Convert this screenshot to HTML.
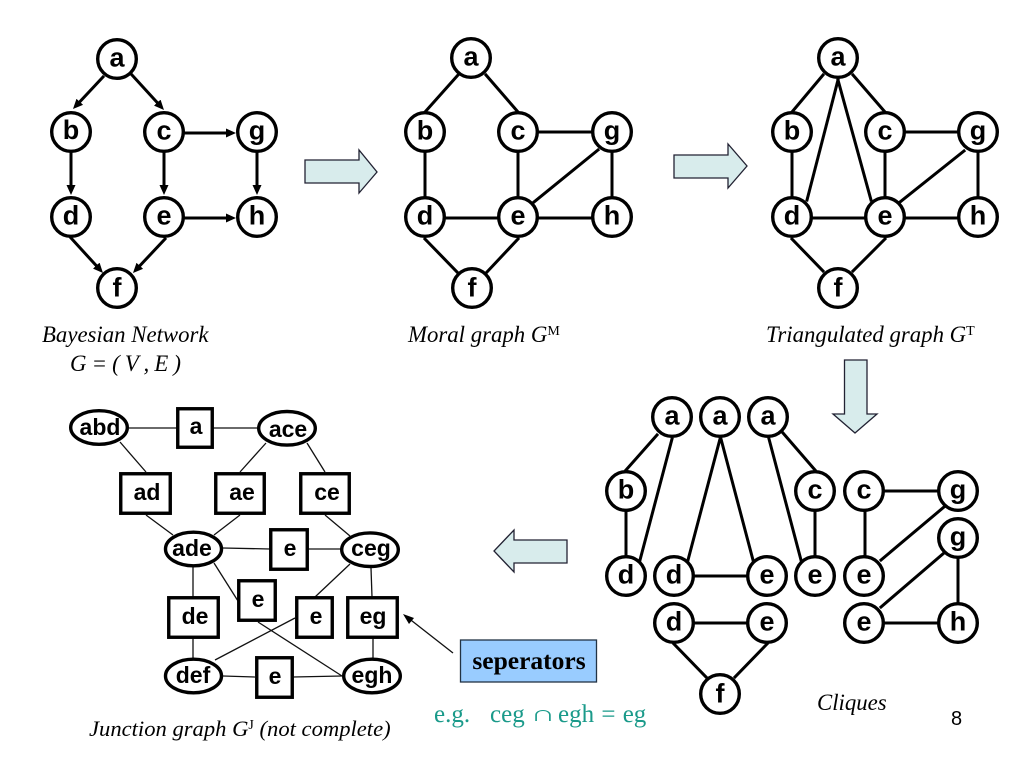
<!DOCTYPE html>
<html><head><meta charset="utf-8"><style>
html,body{margin:0;padding:0;background:#fff}
svg{display:block}
.n circle,.n ellipse,.n rect{fill:#fff;stroke:#000;stroke-width:3.4}
.n circle{r:19.300px}
.n text{font:bold 27px "Liberation Sans",sans-serif;text-anchor:middle;fill:#000}
.j text{font-size:23px}
.e line{stroke:#000;stroke-width:3;stroke-linecap:square}
.t line{stroke:#111;stroke-width:1.3}
.cap{font:italic 22.800px "Liberation Serif",serif;fill:#000}
.teal{font:25px "Liberation Serif",serif;fill:#1a9a8a}
.b{fill:#d8ecec;stroke:#223;stroke-width:1.3}
</style></head><body>
<svg width="1024" height="768" viewBox="0 0 1024 768" xmlns="http://www.w3.org/2000/svg">
<defs><marker id="ah" markerUnits="userSpaceOnUse" markerWidth="10" markerHeight="9" refX="5" refY="4.500" orient="auto"><path d="M0 0L10 4.500L0 9z" fill="#000"/></marker></defs>

<g class="e">
<line x1="103" y1="77" x2="76.400" y2="105.400" marker-end="url(#ah)"/><line x1="132" y1="75" x2="160.600" y2="106.300" marker-end="url(#ah)"/>
<line x1="71" y1="153" x2="71" y2="190" marker-end="url(#ah)"/><line x1="164" y1="153" x2="164" y2="190" marker-end="url(#ah)"/>
<line x1="257" y1="153" x2="257" y2="190" marker-end="url(#ah)"/><line x1="185" y1="133" x2="231" y2="133" marker-end="url(#ah)"/>
<line x1="185" y1="218" x2="231" y2="218" marker-end="url(#ah)"/><line x1="71" y1="238" x2="99.600" y2="269.300" marker-end="url(#ah)"/>
<line x1="165" y1="239" x2="136.400" y2="269.400" marker-end="url(#ah)"/>

<line x1="458" y1="75" x2="425" y2="112"/><line x1="486" y1="75" x2="518" y2="112"/><line x1="425" y1="153" x2="425" y2="196"/><line x1="518" y1="153" x2="518" y2="196"/><line x1="540" y1="132" x2="590" y2="132"/><line x1="612" y1="153" x2="612" y2="196"/><line x1="598" y1="150" x2="534" y2="202"/><line x1="446" y1="218" x2="497" y2="218"/><line x1="539" y1="218" x2="590" y2="218"/><line x1="425" y1="239" x2="458" y2="273"/><line x1="518" y1="239" x2="486" y2="273"/>

<line x1="823" y1="75" x2="792" y2="112"/><line x1="853" y1="75" x2="885" y2="112"/><line x1="838" y1="80" x2="807" y2="200"/><line x1="838" y1="80" x2="871" y2="200"/><line x1="792" y1="153" x2="792" y2="196"/><line x1="885" y1="153" x2="885" y2="196"/><line x1="907" y1="132" x2="957" y2="132"/><line x1="978" y1="153" x2="978" y2="196"/><line x1="964" y1="151" x2="900" y2="202"/><line x1="813" y1="218" x2="864" y2="218"/><line x1="906" y1="218" x2="957" y2="218"/><line x1="792" y1="239" x2="823" y2="271"/><line x1="885" y1="239" x2="853" y2="271"/>

<line x1="657" y1="435" x2="626" y2="470"/><line x1="672" y1="439" x2="640" y2="560"/><line x1="626" y1="512" x2="626" y2="556"/>
<line x1="720" y1="439" x2="688" y2="560"/><line x1="721" y1="439" x2="753" y2="560"/><line x1="695" y1="576" x2="747" y2="576"/>
<line x1="769" y1="439" x2="801" y2="560"/><line x1="783" y1="433" x2="815" y2="470"/><line x1="815" y1="512" x2="815" y2="556"/>
<line x1="886" y1="491" x2="937" y2="491"/><line x1="865" y1="512" x2="865" y2="556"/><line x1="944" y1="507" x2="881" y2="560"/>
<line x1="944" y1="553" x2="881" y2="607"/><line x1="958" y1="558" x2="958" y2="603"/><line x1="886" y1="623" x2="937" y2="623"/>
<line x1="695" y1="623" x2="747" y2="623"/><line x1="674" y1="644" x2="706" y2="677"/><line x1="767" y1="644" x2="735" y2="677"/>
</g>

<g class="n">
<circle cx="117" cy="59" r="19.300"/><text x="117" y="66.500">a</text>
<circle cx="71" cy="132" r="19.300"/><text x="71" y="139">b</text>
<circle cx="164" cy="132" r="19.300"/><text x="164" y="139.500">c</text>
<circle cx="257" cy="132" r="19.300"/><text x="257" y="139.500">g</text>
<circle cx="71" cy="217" r="19.300"/><text x="71" y="224.500">d</text>
<circle cx="164" cy="217" r="19.300"/><text x="164" y="224.500">e</text>
<circle cx="257" cy="217" r="19.300"/><text x="257" y="224.500">h</text>
<circle cx="117" cy="288" r="19.300"/><text x="117" y="296.500">f</text>

<circle cx="471" cy="58" r="19.300"/><text x="471" y="65.500">a</text>
<circle cx="425" cy="132" r="19.300"/><text x="425" y="139.500">b</text>
<circle cx="518" cy="132" r="19.300"/><text x="518" y="139.500">c</text>
<circle cx="612" cy="132" r="19.300"/><text x="612" y="139.500">g</text>
<circle cx="425" cy="217" r="19.300"/><text x="425" y="224.500">d</text>
<circle cx="518" cy="217" r="19.300"/><text x="518" y="224.500">e</text>
<circle cx="612" cy="217" r="19.300"/><text x="612" y="224.500">h</text>
<circle cx="472" cy="288" r="19.300"/><text x="472" y="296.500">f</text>

<circle cx="838" cy="58" r="19.300"/><text x="838" y="65.500">a</text>
<circle cx="792" cy="132" r="19.300"/><text x="792" y="139.500">b</text>
<circle cx="885" cy="132" r="19.300"/><text x="885" y="139.500">c</text>
<circle cx="978" cy="132" r="19.300"/><text x="978" y="139.500">g</text>
<circle cx="792" cy="217" r="19.300"/><text x="792" y="224.500">d</text>
<circle cx="885" cy="217" r="19.300"/><text x="885" y="224.500">e</text>
<circle cx="978" cy="217" r="19.300"/><text x="978" y="224.500">h</text>
<circle cx="838" cy="288" r="19.300"/><text x="838" y="296.500">f</text>

<circle cx="672" cy="417" r="19.300"/><text x="672" y="424.500">a</text>
<circle cx="720" cy="417" r="19.300"/><text x="720" y="424.500">a</text>
<circle cx="768" cy="417" r="19.300"/><text x="768" y="424.500">a</text>
<circle cx="626" cy="491" r="19.300"/><text x="626" y="498.500">b</text>
<circle cx="815" cy="491" r="19.300"/><text x="815" y="498.500">c</text>
<circle cx="864" cy="491" r="19.300"/><text x="864" y="498.500">c</text>
<circle cx="958" cy="491" r="19.300"/><text x="958" y="498.500">g</text>
<circle cx="958" cy="538" r="19.300"/><text x="958" y="545.500">g</text>
<circle cx="626" cy="576" r="19.300"/><text x="626" y="583.500">d</text>
<circle cx="674" cy="576" r="19.300"/><text x="674" y="583.500">d</text>
<circle cx="767" cy="576" r="19.300"/><text x="767" y="583.500">e</text>
<circle cx="815" cy="576" r="19.300"/><text x="815" y="583.500">e</text>
<circle cx="864" cy="576" r="19.300"/><text x="864" y="583.500">e</text>
<circle cx="864" cy="623" r="19.300"/><text x="864" y="630.500">e</text>
<circle cx="958" cy="623" r="19.300"/><text x="958" y="630.500">h</text>
<circle cx="674" cy="623" r="19.300"/><text x="674" y="630.500">d</text>
<circle cx="767" cy="623" r="19.300"/><text x="767" y="630.500">e</text>
<circle cx="720" cy="694" r="19.300"/><text x="720" y="702.500">f</text>
</g>

<g class="t">
<line x1="129" y1="428" x2="177" y2="428"/><line x1="213" y1="428" x2="257" y2="428"/>
<line x1="120" y1="442" x2="146" y2="472"/><line x1="266" y1="443" x2="240" y2="472"/><line x1="307" y1="443" x2="325" y2="472"/>
<line x1="146" y1="515" x2="173" y2="535"/><line x1="240" y1="515" x2="214" y2="535"/><line x1="325" y1="515" x2="350" y2="536"/>
<line x1="223" y1="548" x2="270" y2="549"/><line x1="307" y1="549" x2="341" y2="549"/>
<line x1="193" y1="566" x2="193" y2="597"/><line x1="214" y1="563" x2="238" y2="601"/><line x1="258" y1="622" x2="342" y2="676"/>
<line x1="350" y1="564" x2="315" y2="597"/><line x1="371" y1="568" x2="372" y2="597"/><line x1="295" y1="618" x2="215" y2="660"/>
<line x1="193" y1="638" x2="193" y2="658"/><line x1="373" y1="638" x2="373" y2="658"/><line x1="223" y1="676" x2="255" y2="677"/><line x1="293" y1="677" x2="342" y2="676"/>
<line x1="453" y1="653" x2="407" y2="617"/>
</g>
<path d="M403 614L414 618L409 624z" fill="#000"/>

<g class="n j">
<ellipse cx="99" cy="427.500" rx="28.300" ry="16.800"/><text x="100" y="435">abd</text>
<ellipse cx="287" cy="428.300" rx="28.300" ry="16.800"/><text x="288" y="437">ace</text>
<ellipse cx="193.500" cy="549" rx="28" ry="16.800"/><text x="192" y="556">ade</text>
<ellipse cx="370" cy="549.700" rx="28.300" ry="16.800"/><text x="371" y="556">ceg</text>
<ellipse cx="193.500" cy="676" rx="28" ry="16.800"/><text x="193" y="683">def</text>
<ellipse cx="372" cy="676" rx="28.300" ry="16.800"/><text x="372" y="683">egh</text>
<rect x="177.750" y="408.750" width="34.500" height="38.500"/><text x="196" y="434">a</text>
<rect x="120.750" y="473.750" width="49.500" height="39.500"/><text x="147" y="500">ad</text>
<rect x="215.750" y="473.750" width="48.500" height="39.500"/><text x="242" y="500">ae</text>
<rect x="300.750" y="473.750" width="48.500" height="39.500"/><text x="327" y="500">ce</text>
<rect x="270.750" y="529.750" width="36.500" height="39.500"/><text x="290" y="556">e</text>
<rect x="238.750" y="580.750" width="36.500" height="39.500"/><text x="258" y="607">e</text>
<rect x="168.750" y="597.750" width="49.500" height="39.500"/><text x="195" y="624">de</text>
<rect x="296.750" y="597.750" width="35.500" height="39.500"/><text x="316" y="624">e</text>
<rect x="347.750" y="597.750" width="49.500" height="39.500"/><text x="373" y="624">eg</text>
<rect x="256.750" y="657.750" width="35.500" height="39.500"/><text x="275" y="684">e</text>
</g>

<path class="b" d="M305 160H359V150L377 172L359 193V183H305z"/>
<path class="b" d="M674 155H728V144L747 166L728 188V178H674z"/>
<path class="b" d="M844.500 360H867V414H877L855 433L833 414H844.500z"/>
<path class="b" d="M567 540H514V530L494 551L514 572V563H567z"/>

<rect x="460.500" y="640" width="136" height="42" fill="#99ccff" stroke="#223344" stroke-width="1.300"/>
<text x="529" y="669" text-anchor="middle" style="font:bold 25.500px 'Liberation Serif',serif">seperators</text>
<text class="teal" x="434" y="722">e.g.</text>
<text class="teal" x="490" y="722">ceg</text>
<text transform="translate(531,721) scale(1,0.600)" style="font:24px 'Noto Sans CJK SC',sans-serif;fill:#1a9a8a">∩</text>
<text class="teal" x="558" y="722" word-spacing="1">egh = eg</text>

<text class="cap" x="42" y="342">Bayesian Network</text>
<text class="cap" x="70" y="371" textLength="111">G = ( V , E )</text>
<text class="cap" x="408" y="342">Moral graph G<tspan font-style="normal" font-size="14" dy="-7">M</tspan></text>
<text class="cap" x="766" y="342">Triangulated graph G<tspan font-style="normal" font-size="14" dy="-7">T</tspan></text>
<text class="cap" x="89" y="736" style="font-size:22.600px">Junction graph G<tspan font-style="normal" font-size="14" dy="-7">J</tspan><tspan dy="7"> (not complete)</tspan></text>
<text class="cap" x="817" y="710">Cliques</text>
<text x="951" y="725" style="font:20px 'Liberation Sans',sans-serif">8</text>
</svg>
</body></html>
